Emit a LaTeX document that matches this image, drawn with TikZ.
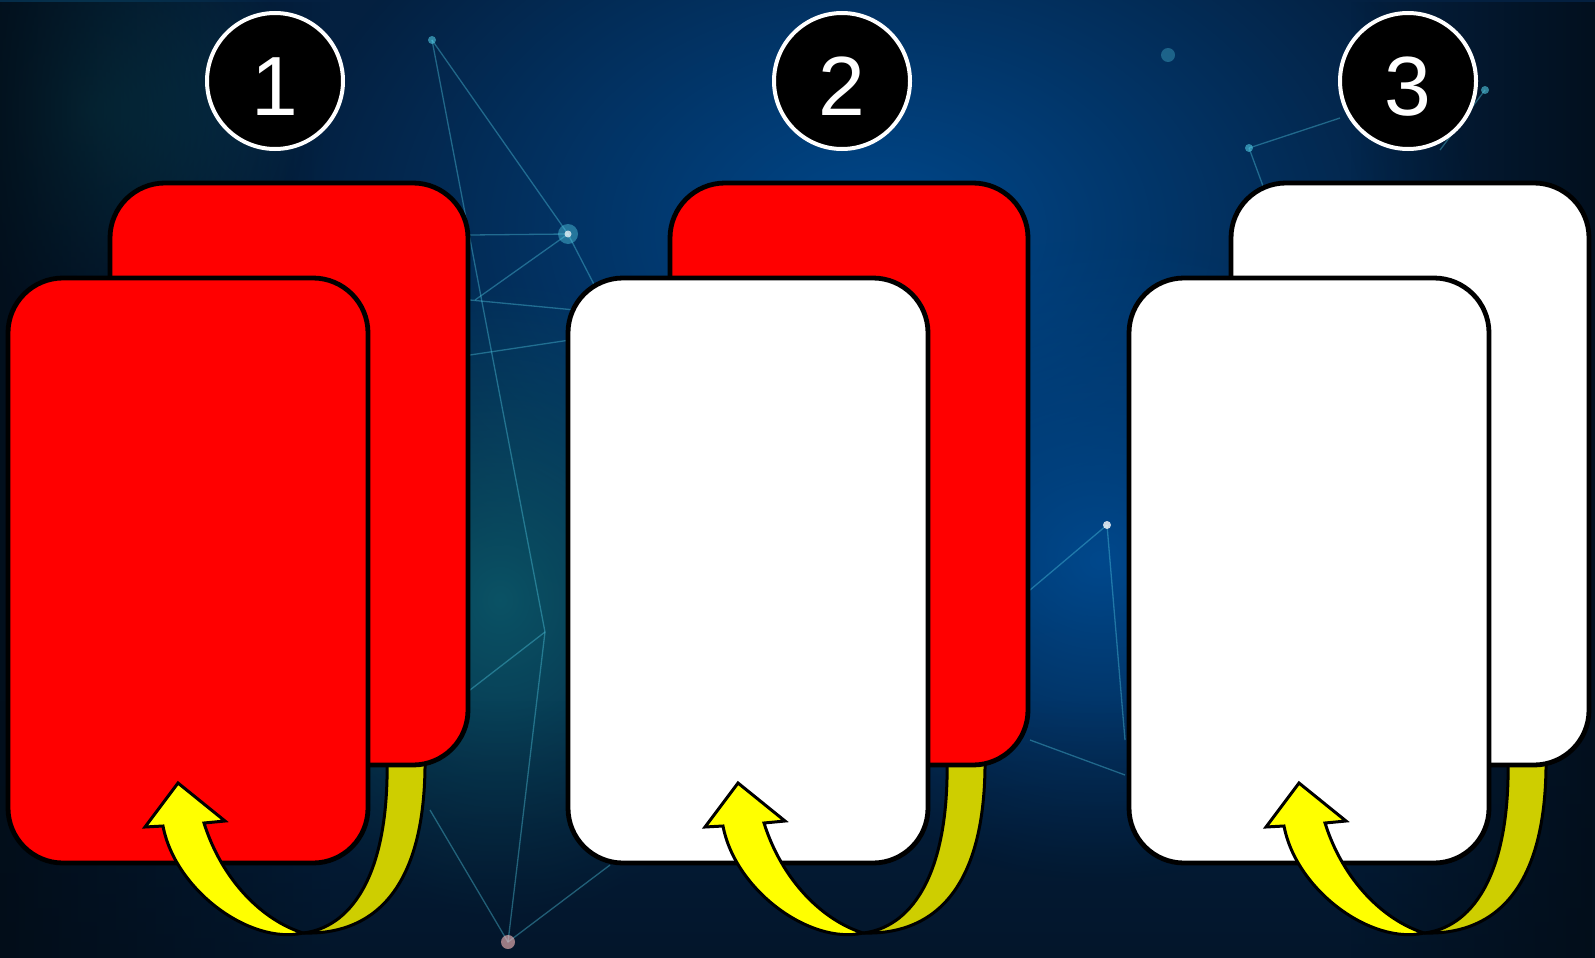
\documentclass[tikz,border=0pt]{standalone}
\usepackage{fontspec}
\setmainfont{Liberation Sans}
\usetikzlibrary{fadings}
\definecolor{bgbase}{RGB}{4,32,64}
\definecolor{bgblue}{RGB}{0,72,140}
\definecolor{bgteal}{RGB}{12,95,110}
\definecolor{bgdark}{RGB}{2,12,22}
\definecolor{netline}{RGB}{80,200,225}
\definecolor{cardred}{RGB}{255,0,0}
\definecolor{ylw}{RGB}{255,255,0}
\definecolor{dylw}{RGB}{206,206,0}
\tikzfading[name=glowfade, inner color=transparent!0, outer color=transparent!100]
\tikzfading[name=fadeR, left color=transparent!0, right color=transparent!100]
\tikzfading[name=fadeL, right color=transparent!0, left color=transparent!100]
\tikzfading[name=fadeUp, bottom color=transparent!0, top color=transparent!100]
\tikzset{
  cardbox/.style={draw=black, line width=4.8pt, rounded corners=55pt},
  ribbon/.style={draw=black, line width=3pt, line join=round},
  numcircle/.style={circle, fill=black, draw=white, line width=4pt, minimum size=136pt, inner sep=0pt},
  numtext/.style={text=white, font=\fontsize{84}{84}\selectfont, inner sep=0pt, anchor=base},
  netl/.style={draw=netline, line width=1.3pt, opacity=0.4},
  netdot/.style={circle, fill=netline, opacity=0.6, inner sep=0pt, minimum size=8pt}
}
\begin{document}
\begin{tikzpicture}[x=1pt,y=-1pt]
\useasboundingbox (0,0) rectangle (1595,958);
% background
\fill[bgbase] (0,0) rectangle (1595,958);
\fill[bgblue, path fading=glowfade] (880,230) ellipse (600 and 420);
\fill[bgblue, path fading=glowfade] (1100,560) ellipse (360 and 320);
\fill[bgteal, path fading=glowfade, opacity=0.8] (500,600) ellipse (280 and 320);
\fill[bgteal, path fading=glowfade, opacity=0.6] (90,110) ellipse (220 and 200);
\fill[bgdark, path fading=fadeR, opacity=0.85] (0,0) rectangle (330,958);
\fill[bgdark, path fading=fadeL, opacity=0.8] (1350,0) rectangle (1595,958);
\fill[bgdark, path fading=fadeUp, opacity=0.5] (0,700) rectangle (1595,958);
% network lines
\coordinate (n1) at (432,40);
\coordinate (n2) at (568,234);
\coordinate (n3) at (475,300);
\coordinate (n4) at (600,296);
\coordinate (n5) at (545,632);
\coordinate (n6) at (470,690);
\coordinate (n7) at (508,942);
\coordinate (n8) at (430,810);
\coordinate (n9) at (610,865);
\coordinate (n10) at (1107,525);
\coordinate (n11) at (1030,590);
\coordinate (n12) at (1249,148);
\coordinate (n13) at (1340,118);
\coordinate (n14) at (1485,90);
\coordinate (n15) at (1168,55);
\coordinate (n16) at (470,235);
\coordinate (n17) at (1125,740);
\coordinate (n18) at (470,300);
\coordinate (n19) at (575,310);
\coordinate (n20) at (470,355);
\coordinate (n21) at (570,340);
\coordinate (n22) at (1030,740);
\draw[netl] (n1) -- (n2) -- (n3);
\draw[netl] (n2) -- (n4);
\draw[netl] (n16) -- (n2);
\draw[netl] (n1) -- (n5);
\draw[netl] (n18) -- (n19);
\draw[netl] (n20) -- (n21);
\draw[netl] (n5) -- (n6);
\draw[netl] (n5) -- (n7);
\draw[netl] (n8) -- (n7) -- (n9);
\draw[netl] (n10) -- (n11);
\draw[netl] (n10) -- (n17);
\draw[netl] (n22) -- (1125,775);
\draw[netl] (n12) -- (n13);
\draw[netl] (n12) -- (1270,205);
\draw[netl] (n14) -- (1440,150);
\node[netdot, minimum size=20pt, opacity=0.45] (d2) at (n2) {};
\node[circle, fill=white, opacity=0.7, inner sep=0pt, minimum size=7pt] (d2c) at (n2) {};
\node[netdot, fill=white, opacity=0.8] (d10) at (n10) {};
\node[netdot] (d12) at (n12) {};
\node[netdot] (d1) at (n1) {};
\node[netdot] (d14) at (n14) {};
\node[netdot, opacity=0.35, minimum size=14pt] (d15) at (n15) {};
\node[netdot, fill=pink, minimum size=14pt] (d7) at (n7) {};
% groups
\foreach \dx/\n/\backc/\frontc in {0/1/cardred/cardred, 560/2/cardred/white, 1121/3/white/white}{
  \begin{scope}[xshift=\dx pt]
    % back side of ribbon (dark)
    \filldraw[ribbon, fill=dylw] (387,755) .. controls (390,880) and (348,928) .. (303,933)
       .. controls (365,935) and (427,900) .. (425,755) -- cycle;
    % back card
    \filldraw[cardbox, fill=\backc] (110,183) rectangle (468,765);
    % front card
    \filldraw[cardbox, fill=\frontc] (8,278) rectangle (368,863);
    % front of ribbon with head
    \filldraw[ribbon, line join=miter, fill=ylw] (178,783) -- (225,821) -- (204,823)
       .. controls (222,880) and (262,920) .. (303,933)
       .. controls (250,945) and (175,890) .. (163,826) -- (145,827) -- cycle;
  \end{scope}
}
% number circles
\node[numcircle] (c1) at (275,81) {};
\node[numcircle] (c2) at (842,81) {};
\node[numcircle] (c3) at (1408,81) {};
\node[numtext] at (275,115) {1};
\node[numtext] at (842,115) {2};
\node[numtext] at (1408,115) {3};
\end{tikzpicture}
\end{document}
